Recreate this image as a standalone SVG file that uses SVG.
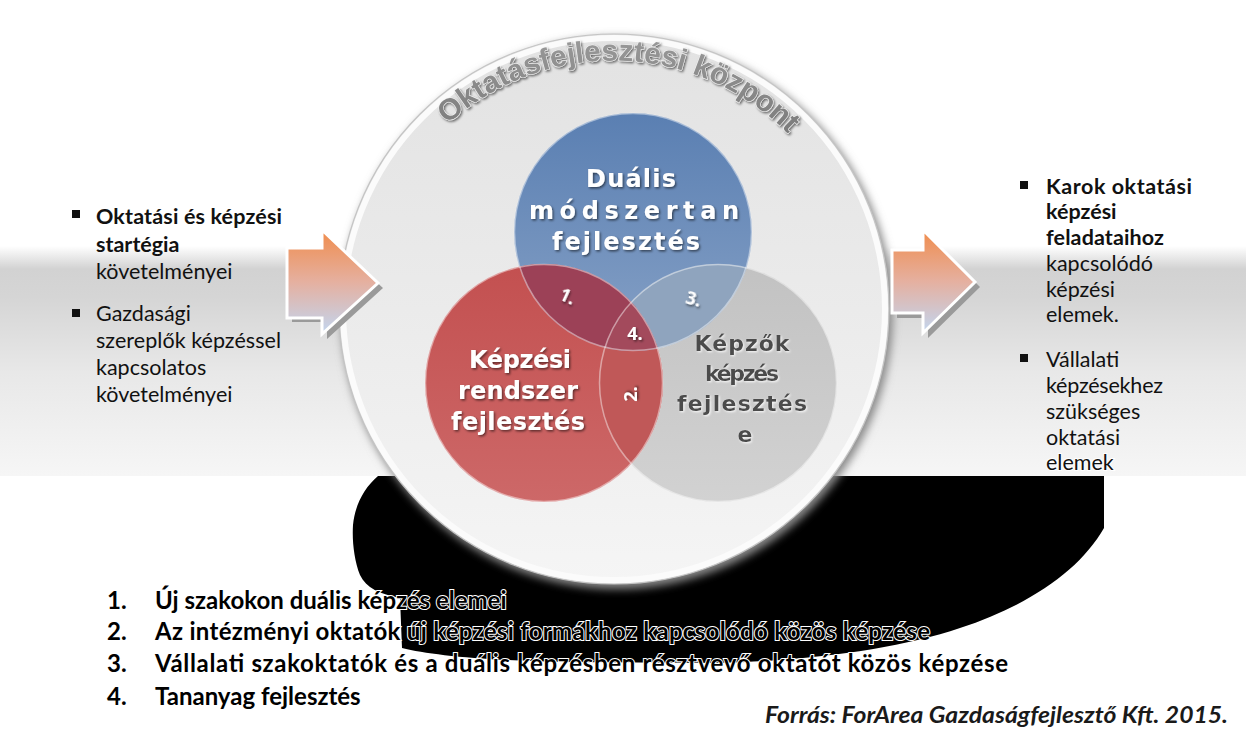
<svg xmlns="http://www.w3.org/2000/svg" width="1246" height="729" viewBox="0 0 1246 729">
<defs>
<style>
.lt{font-family:Lato,"Open Sans","Liberation Sans",sans-serif;font-size:21.5px;fill:#111}
.b{font-weight:bold}
.lst{font-family:Lato,"Liberation Sans",sans-serif;font-size:24px;font-weight:bold;fill:#000;stroke:#fff;stroke-width:2;paint-order:stroke}
.ct{font-family:"DejaVu Sans","Liberation Sans",sans-serif;font-weight:bold;font-size:24px;text-anchor:middle}
.ctg{font-family:"DejaVu Sans","Liberation Sans",sans-serif;font-weight:bold;font-size:22px;text-anchor:middle}
.wt{fill:#fff;filter:url(#sh)}
.gt{fill:#4b4b4b;filter:url(#gl)}
.num{font-family:"Open Sans","Liberation Sans",sans-serif;font-weight:bold;font-size:18px;fill:#fff;text-anchor:middle;filter:url(#sh)}
.arrow{stroke:#fff;stroke-width:3;stroke-linejoin:miter;fill:url(#arr)}
.ashadow{fill:#9a9a9a}
.rim{fill:none;stroke:#fff;stroke-opacity:.45;stroke-width:1.5}
</style>
<linearGradient id="band" x1="0" y1="0" x2="0" y2="1">
<stop offset="0" stop-color="#ffffff"/>
<stop offset="0.1" stop-color="#d2d2d2"/>
<stop offset="0.22" stop-color="#d5d5d5"/>
<stop offset="0.55" stop-color="#e8e8e8"/>
<stop offset="1" stop-color="#f6f6f6"/>
</linearGradient>
<linearGradient id="disc" x1="0" y1="0" x2="0" y2="1">
<stop offset="0" stop-color="#e2e2e2"/>
<stop offset="0.5" stop-color="#ebebeb"/>
<stop offset="1" stop-color="#f5f5f5"/>
</linearGradient>
<linearGradient id="arr" x1="0" y1="0" x2="0" y2="1">
<stop offset="0" stop-color="#f08c4c"/>
<stop offset="0.5" stop-color="#e5b0a0"/>
<stop offset="1" stop-color="#c2d6f0"/>
</linearGradient>
<linearGradient id="gBlue" x1="0" y1="0" x2="0" y2="1">
<stop offset="0" stop-color="#5a7fb2"/>
<stop offset="1" stop-color="#86a1c6"/>
</linearGradient>
<linearGradient id="gRed" x1="0" y1="0" x2="0" y2="1">
<stop offset="0" stop-color="#c35050"/>
<stop offset="1" stop-color="#cd6868"/>
</linearGradient>
<linearGradient id="gGray" x1="0" y1="0" x2="0" y2="1">
<stop offset="0" stop-color="#c2c2c2"/>
<stop offset="1" stop-color="#d2d2d2"/>
</linearGradient>
<linearGradient id="arcTxt" x1="0" y1="0" x2="0" y2="1">
<stop offset="0" stop-color="#9a9a9a"/>
<stop offset="1" stop-color="#7a7a7a"/>
</linearGradient>
<clipPath id="cBlue"><circle cx="633" cy="232" r="119"/></clipPath>
<clipPath id="cGray"><circle cx="718" cy="383" r="119"/></clipPath>
<filter id="sh" x="-20%" y="-20%" width="140%" height="140%">
<feDropShadow dx="1.3" dy="1.5" stdDeviation="1" flood-color="#000" flood-opacity="0.55"/>
</filter>
<filter id="gl" x="-20%" y="-20%" width="140%" height="140%">
<feDropShadow dx="1" dy="1" stdDeviation="0.8" flood-color="#fff" flood-opacity="0.9"/>
</filter>
<filter id="blur4" x="-10%" y="-10%" width="120%" height="120%">
<feGaussianBlur stdDeviation="4"/>
</filter>
<path id="arcPath" d="M 399.7 184 A 246 246 0 0 1 826.3 184"/>
</defs>

<rect width="1246" height="729" fill="#fff"/>
<rect x="0" y="246" width="1246" height="230" fill="url(#band)"/>

<path id="black-shape" fill="#000" d="M 378 476 L 1104 476 L 1104 528 C 1080 570 1030 605 960 628 C 900 648 820 660 720 663 L 560 662 C 480 660 430 655 402 648 L 400 598 C 380 594 366 588 360 575 C 354 560 352 540 353 525 C 355 505 364 488 378 476 Z"/>

<g id="center-disc">
<circle cx="617" cy="313" r="276" fill="#8a8a8a" filter="url(#blur4)"/>
<circle cx="614" cy="309" r="275" fill="url(#disc)"/>
<circle cx="614" cy="309" r="271" fill="none" stroke="#fbfbfb" stroke-width="6"/>
<circle cx="614" cy="309" r="275" fill="none" stroke="#c4c4c4" stroke-width="1.2"/>
<text font-family="'Liberation Sans',Arial,sans-serif" font-weight="bold" font-size="30" fill="url(#arcTxt)" stroke="#f4f4f4" stroke-width="1" paint-order="stroke" filter="url(#sh)"><textPath href="#arcPath" startOffset="51.3%" text-anchor="middle" textLength="376" lengthAdjust="spacing">Oktatásfejlesztési központ</textPath></text>
</g>

<g id="venn">
<g id="node-gray">
<circle cx="718" cy="383" r="119" fill="url(#gGray)"/>
</g>
<g id="node-blue">
<circle cx="633" cy="232" r="119" fill="url(#gBlue)"/>
</g>
<g id="node-red">
<circle cx="544" cy="383" r="119" fill="url(#gRed)"/>
</g>
<g id="overlaps">
<circle cx="544" cy="383" r="119" fill="#c05858" clip-path="url(#cGray)"/>
<circle cx="633" cy="232" r="119" fill="#8fa4be" clip-path="url(#cGray)"/>
<circle cx="544" cy="383" r="119" fill="#9c4157" clip-path="url(#cBlue)"/>
<g clip-path="url(#cBlue)"><circle cx="544" cy="383" r="119" fill="#a34a5c" clip-path="url(#cGray)"/></g>
</g>
<circle class="rim" cx="718" cy="383" r="118.5"/>
<circle class="rim" cx="633" cy="232" r="118.5"/>
<circle class="rim" cx="544" cy="383" r="118.5" stroke="#f4a0a0"/>

<g id="label-blue">
<text class="ct wt" x="631" y="187" textLength="90" lengthAdjust="spacing">Duális</text>
<text class="ct wt" x="634" y="219" textLength="210" lengthAdjust="spacing">módszertan</text>
<text class="ct wt" x="626" y="250" textLength="148" lengthAdjust="spacing">fejlesztés</text>
</g>
<g id="label-red">
<text class="ct wt" x="520" y="368" textLength="102" lengthAdjust="spacing">Képzési</text>
<text class="ct wt" x="518" y="399" textLength="120" lengthAdjust="spacing">rendszer</text>
<text class="ct wt" x="518" y="430" textLength="134" lengthAdjust="spacing">fejlesztés</text>
</g>
<g id="label-gray">
<text class="ctg gt" x="742" y="351" textLength="95" lengthAdjust="spacing">Képzők</text>
<text class="ctg gt" x="742" y="381" textLength="74" lengthAdjust="spacing">képzés</text>
<text class="ctg gt" x="742" y="411" textLength="130" lengthAdjust="spacing">fejlesztés</text>
<text class="ctg gt" x="745" y="442">e</text>
</g>
<g id="numbers">
<text class="num" transform="translate(565,302) rotate(25)">1.</text>
<text class="num" transform="translate(692,305) rotate(15)">3.</text>
<text class="num" x="635" y="340">4.</text>
<text class="num" transform="translate(637,394) rotate(-90)">2.</text>
</g>
</g>

<g id="connectors">
<path class="ashadow" d="M292 252 L327 252 L327 237 L383 288 L327 339 L327 322 L292 322 Z"/>
<path class="arrow" d="M287 248 L322 248 L322 230 L378 283 L322 334 L322 318 L287 318 Z"/>
<path class="ashadow" d="M897 255 L928 255 L928 235 L980 287 L928 338 L928 318 L897 318 Z"/>
<path class="arrow" d="M892 250 L923 250 L923 230 L975 282 L923 333 L923 313 L892 313 Z"/>
</g>

<g id="left-text">
<rect x="72" y="210" width="8" height="8" fill="#111"/>
<text class="lt b" x="96" y="224" textLength="186" lengthAdjust="spacing">Oktatási  és képzési</text>
<text class="lt b" x="96" y="252">startégia</text>
<text class="lt" x="96" y="279">követelményei</text>
<rect x="72" y="309" width="8" height="8" fill="#111"/>
<text class="lt" x="96" y="321">Gazdasági</text>
<text class="lt" x="96" y="348" textLength="185" lengthAdjust="spacing">szereplők képzéssel</text>
<text class="lt" x="96" y="375">kapcsolatos</text>
<text class="lt" x="96" y="402">követelményei</text>
</g>

<g id="right-text">
<rect x="1020" y="181" width="8" height="8" fill="#111"/>
<text class="lt b" x="1046" y="194" textLength="146" lengthAdjust="spacing">Karok oktatási</text>
<text class="lt b" x="1046" y="219">képzési</text>
<text class="lt b" x="1046" y="245" textLength="118" lengthAdjust="spacing">feladataihoz</text>
<text class="lt" x="1046" y="271">kapcsolódó</text>
<text class="lt" x="1046" y="297">képzési</text>
<text class="lt" x="1046" y="322">elemek.</text>
<rect x="1020" y="354" width="8" height="8" fill="#111"/>
<text class="lt" x="1046" y="367">Vállalati</text>
<text class="lt" x="1046" y="393" textLength="117" lengthAdjust="spacing">képzésekhez</text>
<text class="lt" x="1046" y="419">szükséges</text>
<text class="lt" x="1046" y="445">oktatási</text>
<text class="lt" x="1046" y="470" stroke="#fff" stroke-width="2" paint-order="stroke">elemek</text>
</g>

<g id="list">
<text class="lst" x="107" y="609">1.</text>
<text class="lst" x="155" y="609">Új szakokon duális képzés elemei</text>
<text class="lst" x="107" y="640">2.</text>
<text class="lst" x="155" y="640" textLength="775" lengthAdjust="spacing">Az intézményi oktatók új képzési formákhoz kapcsolódó közös képzése</text>
<text class="lst" x="107" y="672">3.</text>
<text class="lst" x="155" y="672" textLength="853" lengthAdjust="spacing">Vállalati szakoktatók és a duális képzésben résztvevő oktatót közös képzése</text>
<text class="lst" x="107" y="705">4.</text>
<text class="lst" x="155" y="705">Tananyag fejlesztés</text>
</g>

<text id="source" x="1228" y="723" text-anchor="end" font-family="Lato,'Liberation Sans',sans-serif" font-style="italic" font-weight="bold" font-size="23" fill="#1a1a1a" textLength="463" lengthAdjust="spacingAndGlyphs">Forrás: ForArea Gazdaságfejlesztő Kft. 2015.</text>
</svg>
